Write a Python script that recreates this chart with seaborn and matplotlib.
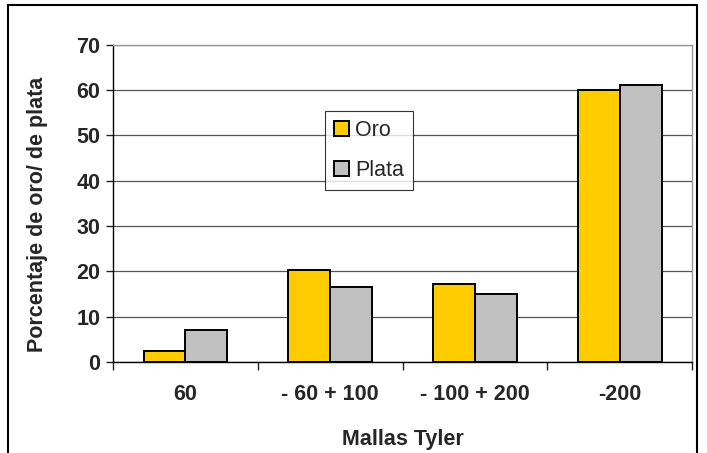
import pandas as pd
import matplotlib.pyplot as plt
import seaborn as sns
from matplotlib.patches import Rectangle

# Datos
mallas = ["60", "- 60 + 100", "- 100 + 200", "-200"]
oro = [2.5, 20.4, 17.1, 60.0]
plata = [7.0, 16.6, 15.1, 61.2]

sns.set_theme(style="white")
plt.rcParams['font.family'] = ['Liberation Sans', 'DejaVu Sans']

df = pd.DataFrame({
    'Malla': mallas * 2,
    'Porcentaje': oro + plata,
    'Metal': ['Oro'] * 4 + ['Plata'] * 4,
})

fig = plt.figure(figsize=(7.07, 4.53), dpi=100)
ax = fig.add_axes([0.160, 0.201, 0.819, 0.700])

sns.barplot(data=df, x='Malla', y='Porcentaje', hue='Metal',
            palette={'Oro': '#FFCC00', 'Plata': '#C0C0C0'},
            width=0.58, gap=0, edgecolor='black', linewidth=1.4,
            saturation=1, ax=ax)

ax.set_ylim(0, 70)
ax.set_xlim(-0.5, 3.5)
ax.set_yticks(range(0, 71, 10))
ax.yaxis.grid(True, color='#555555', linewidth=0.9)
ax.set_axisbelow(True)

# Marco del área de trazado
ax.spines['left'].set_color('black')
ax.spines['bottom'].set_color('black')
ax.spines['top'].set_color('#999999')
ax.spines['right'].set_color('#999999')
for s in ax.spines.values():
    s.set_linewidth(1.0)

fs = 15.5
ax.tick_params(axis='y', left=True, length=5, width=1, labelsize=fs, pad=4)
ax.tick_params(axis='x', bottom=False, labelsize=fs, pad=10)
ax.set_xticks([-0.5, 0.5, 1.5, 2.5, 3.5], minor=True)
ax.tick_params(axis='x', which='minor', bottom=True, length=6, width=1)
for lab in ax.get_xticklabels() + ax.get_yticklabels():
    lab.set_fontweight('bold')

ax.set_xlabel('Mallas Tyler', fontsize=fs, fontweight='bold', labelpad=17)
ax.set_ylabel('Porcentaje de oro/ de plata', fontsize=fs, fontweight='bold')
ax.yaxis.set_label_coords(-0.113, 0.465)

leg = ax.legend(loc='center', bbox_to_anchor=(0.442, 0.666), fontsize=fs,
                frameon=True, fancybox=False, edgecolor='black',
                handlelength=0.7, handleheight=0.7, handletextpad=0.3,
                labelspacing=0.9, borderpad=0.4, borderaxespad=0)
leg.get_frame().set_linewidth(0.8)

# Borde de la figura
fig.patches.append(Rectangle((0.012, -0.01), 0.974, 0.998, transform=fig.transFigure,
                             fill=False, edgecolor='black', linewidth=1.5))

fig.savefig('out.png', dpi=100, facecolor='white')
